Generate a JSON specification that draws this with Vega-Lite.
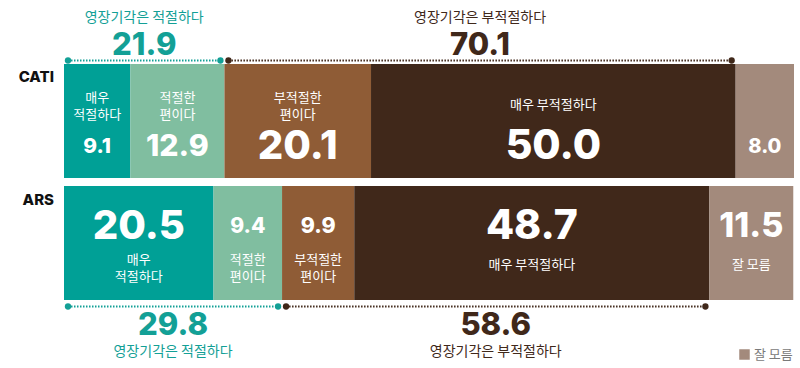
{
  "$schema": "https://vega.github.io/schema/vega-lite/v6.json",
  "width": 730,
  "height": 236,
  "autosize": "none",
  "padding": {"left": 64, "right": 6, "top": 64, "bottom": 68},
  "background": "white",
  "config": {"view": {"stroke": null}, "font": "Noto Sans CJK KR"},
  "datasets": {
    "bars": [
      {"row": "CATI", "cat": "매우 적절하다", "value": 9.1, "order": 1, "label": "매우\n적절하다"},
      {"row": "CATI", "cat": "적절한 편이다", "value": 12.9, "order": 2, "label": "적절한\n편이다"},
      {"row": "CATI", "cat": "부적절한 편이다", "value": 20.1, "order": 3, "label": "부적절한\n편이다"},
      {"row": "CATI", "cat": "매우 부적절하다", "value": 50.0, "order": 4, "label": "매우 부적절하다"},
      {"row": "CATI", "cat": "잘 모름", "value": 8.0, "order": 5, "label": ""},
      {"row": "ARS", "cat": "매우 적절하다", "value": 20.5, "order": 1, "label": "매우\n적절하다"},
      {"row": "ARS", "cat": "적절한 편이다", "value": 9.4, "order": 2, "label": "적절한\n편이다"},
      {"row": "ARS", "cat": "부적절한 편이다", "value": 9.9, "order": 3, "label": "부적절한\n편이다"},
      {"row": "ARS", "cat": "매우 부적절하다", "value": 48.7, "order": 4, "label": "매우 부적절하다"},
      {"row": "ARS", "cat": "잘 모름", "value": 11.5, "order": 5, "label": "잘 모름"}
    ],
    "brackets": [
      {"row": "CATI", "side": "적절", "start": 0, "end": 22.0, "pct": "21.9", "title": "영장기각은 적절하다"},
      {"row": "CATI", "side": "부적절", "start": 22.0, "end": 92.1, "pct": "70.1", "title": "영장기각은 부적절하다"},
      {"row": "ARS", "side": "적절", "start": 0, "end": 29.9, "pct": "29.8", "title": "영장기각은 적절하다"},
      {"row": "ARS", "side": "부적절", "start": 29.9, "end": 88.5, "pct": "58.6", "title": "영장기각은 부적절하다"}
    ],
    "rows": [{"row": "CATI"}, {"row": "ARS"}]
  },
  "resolve": {"scale": {"color": "independent"}},
  "layer": [
    {
      "data": {"name": "bars"},
      "transform": [
        {"stack": "value", "groupby": ["row"], "sort": [{"field": "order", "order": "ascending"}], "as": ["x0", "x1"]},
        {"calculate": "(datum.x0 + datum.x1) / 2", "as": "mid"}
      ],
      "encoding": {
        "y": {"field": "row", "type": "nominal", "scale": {"domain": ["CATI", "ARS"], "paddingInner": 0.066, "paddingOuter": 0}, "axis": null}
      },
      "layer": [
        {
          "mark": {"type": "bar"},
          "encoding": {
            "x": {"field": "x0", "type": "quantitative", "scale": {"domain": [0, 100.1], "nice": false, "zero": false}, "axis": null},
            "x2": {"field": "x1"},
            "color": {
              "field": "cat", "type": "nominal",
              "scale": {"domain": ["매우 적절하다", "적절한 편이다", "부적절한 편이다", "매우 부적절하다", "잘 모름"], "range": ["#00a096", "#80bea0", "#8f5c36", "#40281a", "#a38a7c"]},
              "legend": {"values": ["잘 모름"], "orient": "none", "legendX": 674, "legendY": 284, "title": null, "symbolType": "square", "symbolSize": 110, "labelFont": "Noto Sans CJK KR", "labelFontSize": 13, "labelColor": "#7a7a7a", "padding": 0, "symbolStrokeWidth": 0, "labelOffset": 3}
            }
          }
        },
        {
          "transform": [{"filter": "datum.row === 'CATI'"}],
          "mark": {"type": "text", "font": "Inter", "fontWeight": 800, "color": "white", "baseline": "middle", "dy": 26},
          "encoding": {
            "x": {"field": "mid", "type": "quantitative"},
            "text": {"field": "value", "type": "quantitative", "format": ".1f"},
            "size": {"field": "value", "type": "quantitative", "scale": {"domain": [8, 10, 11.5, 13, 20, 50], "range": [20, 21.5, 34, 30, 40, 41]}, "legend": null}
          }
        },
        {
          "transform": [{"filter": "datum.row === 'CATI' && indexof(datum.label, '\\n') >= 0"}],
          "mark": {"type": "text", "font": "Noto Sans CJK KR", "fontSize": 13, "color": "white", "baseline": "middle", "lineBreak": "\n", "lineHeight": 17, "dy": -23},
          "encoding": {
            "x": {"field": "mid", "type": "quantitative"},
            "text": {"field": "label", "type": "nominal"}
          }
        },
        {
          "transform": [{"filter": "datum.row === 'CATI' && datum.label !== '' && indexof(datum.label, '\\n') < 0"}],
          "mark": {"type": "text", "font": "Noto Sans CJK KR", "fontSize": 13, "color": "white", "baseline": "middle", "dy": -16},
          "encoding": {
            "x": {"field": "mid", "type": "quantitative"},
            "text": {"field": "label", "type": "nominal"}
          }
        },
        {
          "transform": [{"filter": "datum.row === 'ARS'"}],
          "mark": {"type": "text", "font": "Inter", "fontWeight": 800, "color": "white", "baseline": "middle", "dy": -16.5},
          "encoding": {
            "x": {"field": "mid", "type": "quantitative"},
            "text": {"field": "value", "type": "quantitative", "format": ".1f"},
            "size": {"field": "value", "type": "quantitative", "scale": {"domain": [8, 10, 11.5, 13, 20, 50], "range": [20, 21.5, 34, 30, 40, 41]}, "legend": null}
          }
        },
        {
          "transform": [{"filter": "datum.row === 'ARS' && indexof(datum.label, '\\n') >= 0"}],
          "mark": {"type": "text", "font": "Noto Sans CJK KR", "fontSize": 13, "color": "white", "baseline": "middle", "lineBreak": "\n", "lineHeight": 17, "dy": 17},
          "encoding": {
            "x": {"field": "mid", "type": "quantitative"},
            "text": {"field": "label", "type": "nominal"}
          }
        },
        {
          "transform": [{"filter": "datum.row === 'ARS' && datum.label !== '' && indexof(datum.label, '\\n') < 0"}],
          "mark": {"type": "text", "font": "Noto Sans CJK KR", "fontSize": 13, "color": "white", "baseline": "middle", "dy": 22},
          "encoding": {
            "x": {"field": "mid", "type": "quantitative"},
            "text": {"field": "label", "type": "nominal"}
          }
        }
      ]
    },
    {
      "data": {"name": "rows"},
      "mark": {"type": "text", "font": "Inter", "fontWeight": 800, "fontSize": 15, "color": "#111111", "align": "right", "baseline": "alphabetic", "dx": -10, "dy": -38.5},
      "encoding": {
        "x": {"datum": 0, "type": "quantitative"},
        "y": {"field": "row", "type": "nominal"},
        "text": {"field": "row", "type": "nominal"}
      }
    },
    {
      "data": {"name": "brackets"},
      "transform": [{"calculate": "(datum.start + datum.end) / 2", "as": "mid"}],
      "encoding": {
        "y": {"field": "row", "type": "nominal"},
        "color": {"field": "side", "type": "nominal", "scale": {"domain": ["적절", "부적절"], "range": ["#13a096", "#40281a"]}, "legend": null}
      },
      "layer": [
        {
          "transform": [{"filter": "datum.row === 'CATI'"}],
          "mark": {"type": "rule", "strokeDash": [1.5, 1.5], "strokeWidth": 2, "yOffset": -60.5, "xOffset": 4, "x2Offset": -4},
          "encoding": {"x": {"field": "start", "type": "quantitative"}, "x2": {"field": "end"}}
        },
        {
          "transform": [{"filter": "datum.row === 'CATI'"}],
          "mark": {"type": "point", "filled": true, "opacity": 1, "size": 40, "yOffset": -60.5, "xOffset": 4},
          "encoding": {"x": {"field": "start", "type": "quantitative"}}
        },
        {
          "transform": [{"filter": "datum.row === 'CATI'"}],
          "mark": {"type": "point", "filled": true, "opacity": 1, "size": 40, "yOffset": -60.5, "xOffset": -4},
          "encoding": {"x": {"field": "end", "type": "quantitative"}}
        },
        {
          "transform": [{"filter": "datum.row === 'CATI'"}],
          "mark": {"type": "text", "font": "Inter", "fontWeight": 800, "fontSize": 31, "baseline": "middle", "dy": -75},
          "encoding": {"x": {"field": "mid", "type": "quantitative"}, "text": {"field": "pct", "type": "nominal"}}
        },
        {
          "transform": [{"filter": "datum.row === 'CATI'"}],
          "mark": {"type": "text", "font": "Noto Sans CJK KR", "fontSize": 14, "baseline": "middle", "dy": -103},
          "encoding": {"x": {"field": "mid", "type": "quantitative"}, "text": {"field": "title", "type": "nominal"}}
        },
        {
          "transform": [{"filter": "datum.row === 'ARS'"}],
          "mark": {"type": "rule", "strokeDash": [1.5, 1.5], "strokeWidth": 2, "yOffset": 63.5, "xOffset": 4, "x2Offset": -4},
          "encoding": {"x": {"field": "start", "type": "quantitative"}, "x2": {"field": "end"}}
        },
        {
          "transform": [{"filter": "datum.row === 'ARS'"}],
          "mark": {"type": "point", "filled": true, "opacity": 1, "size": 40, "yOffset": 63.5, "xOffset": 4},
          "encoding": {"x": {"field": "start", "type": "quantitative"}}
        },
        {
          "transform": [{"filter": "datum.row === 'ARS'"}],
          "mark": {"type": "point", "filled": true, "opacity": 1, "size": 40, "yOffset": 63.5, "xOffset": -4},
          "encoding": {"x": {"field": "end", "type": "quantitative"}}
        },
        {
          "transform": [{"filter": "datum.row === 'ARS'"}],
          "mark": {"type": "text", "font": "Inter", "fontWeight": 800, "fontSize": 31, "baseline": "middle", "dy": 83},
          "encoding": {"x": {"field": "mid", "type": "quantitative"}, "text": {"field": "pct", "type": "nominal"}}
        },
        {
          "transform": [{"filter": "datum.row === 'ARS'"}],
          "mark": {"type": "text", "font": "Noto Sans CJK KR", "fontSize": 14, "baseline": "middle", "dy": 108.5},
          "encoding": {"x": {"field": "mid", "type": "quantitative"}, "text": {"field": "title", "type": "nominal"}}
        }
      ]
    }
  ]
}
